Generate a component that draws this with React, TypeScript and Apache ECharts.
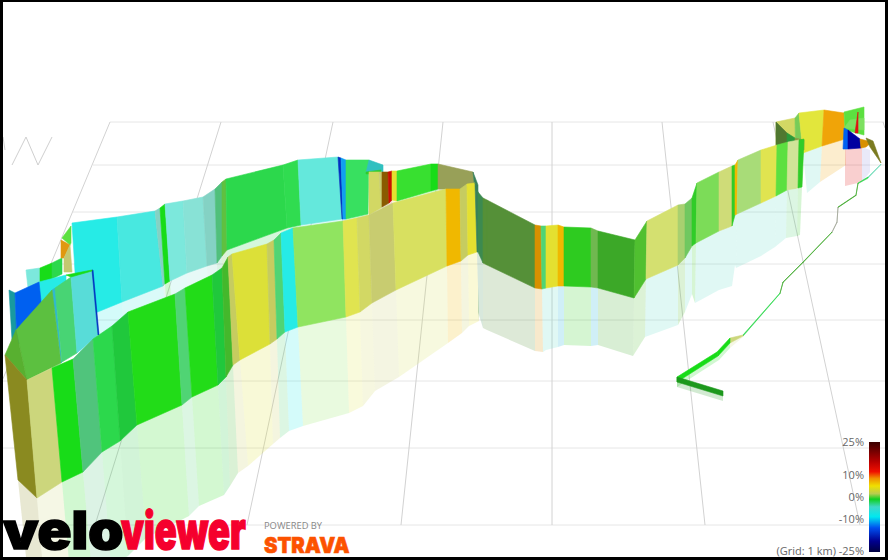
import React, { useEffect, useRef } from "react";
import * as echarts from "echarts";

// Projected route stations: [top x, top y, base x, base y] on the projection axes.
const frontWall = [
  [5,355,18,480],[27,380,37,498],[52,368,62,482],[73,359,83,472],[93,339,102,452],[112,326,120,441],[128,312,137,425],
  [175,294,182,405],[185,288,192,397],[212,275,218,385],[222,268,226,377],[228,257,233,365],[232,254,240,360],[267,244,270,344],
  [274,240,277,339],[281,233,285,332],[293,228,298,327],[343,221,346,317],[357,218,360,312],[369,215,372,303],[393,203,396,290],
  [446,189,447,266],[460,189,461,261],[467,184,468,255],[475,183,477,252],[478,192,478,252],[483,198,483,263],[487,200,487,265],
  [535,225,535,288],[541,226,542,289],[546,226,546,288],[558,225,558,286],[564,227,564,286],[591,228,591,287],[598,231,598,288],
  [635,240,634,298],[647,221,646,279],[678,205,678,265],[685,204,685,258],[692,198,692,246],[697,183,696,243],[719,172,719,231],
  [732,166,732,226],[735,165,735,215],[738,160,737,214],[761,150,761,203],[777,145,776,196],[788,142,787,190],[799,140,798,188],[804,139,802,187],
];
const frontTones = [
  "olive","khakiPale","vivid","greenGrey","green","greenDark","bright","stripe","bright","greenDark","oliveGreen","khaki","yellow","khaki",
  "stripe","cyan","lime","yellowSoft","khakiYellow","khakiDull","yellowPale","amber","khaki","yellowHot","tealDark","tealMid","moss",
  "moss","orange","stripe","yellowHot","amber","greenMid","greyGreen","forest","greenSide","khakiLime","limeGrey","greenSide2","greenMid2","limeSoft","khakiLime2","greenMid2",
  "amber","limeKhaki","yellowSoft","limeBright","palePea","greenMid2",
];
// The floor shows other tones than the wall on the climb past the dark section.
const frontMirrorSwaps: Record<number,string> = {
  29:"mirrorCyan",30:"mirrorCyan",31:"mirrorSky",33:"mirrorSky",36:"mirrorCyan",37:"greenSide",38:"mirrorCyan",40:"mirrorCyan",41:"mirrorCyan",42:"mirrorCyan",
  43:"mirrorCyan",44:"mirrorCyan",45:"mirrorCyan",46:"mirrorCyan",47:"stripe",
};
const backWall = [
  [72,223,78,320],[117,217,122,302],[155,211,163,286],[160,208,165,284],[165,204,170,281],[183,201,187,273],[203,197,207,266],[215,189,217,263],
  [222,182,222,256],[226,179,227,250],[283,165,287,228],[298,160,301,225],[338,157,342,219],[341,158,343,219],[346,160,346,219],[369,160,368,214],
];
const backTones = ["cyan","cyanSoft","tealGrey","vivid","paleCyan","paleCyan2","tealGrey","greyGreenB","oliveGreen2","green","green2","paleCyan3","blueDeep","blueSky","green3"];
const innerWall = [
  [369,172,369,215],[379,172,381,208],[382,172,382,207],[388,172,389,203],[392,171,392,200],[397,171,397,201],[431,164,431,191],[438,164,438,189],[473,172,475,190],[478,185,478,192],
];
const innerTones = ["khakiYellow","khakiDull","brown","red","yellowHot","lime2","vivid","oliveDull","tealDark"];
const farWall = [
  [776,122,776,190],[795,118,796,188],[799,113,803,153],[824,110,822,146],[844,113,845,139],
];
const farTones = ["khakiYellow","stripe2","yellowHot2","amberDeep"];
const farMirrorWall = [[799,113,803,153],[824,110,822,146],[844,113,845,139]];
const farMirrorTones = ["mirrorCyan","amberDeep"];
const cornerWall = [[844,112,845,130],[864,107,864,135]];
const cornerTones = ["limeBright"];
const cornerMirrorWall = [[845,112,845,149],[862,112,862,147],[870,128,870,150]];
const cornerMirrorTones = ["red2","mirrorLilac"];
const leftBackWall = [[9,290,12,340],[15,293,17,345],[39,282,43,320]];
const leftBackTones = ["tealDeep","blueBright"];
const leftRearWall = [[26,270,28,288],[40,268,40,284],[52,263,52,279],[62,258,62,274]];
const leftRearTones = ["paleCyan","vivid","green"];
const leftFrontWall = [[52,290,61,363],[55,288,62,362],[71,277,77,353],[92,270,98,335],[93,270,99,335]];
const leftFrontTones = ["skyGrey","greenGrey2","tealBright","blueDeep"];
const routeWall = [
  [881,164,881,164.6],[868,177,868,178],[858,183,858,183.5],[856,195,856,195.4],[838,207,838,207.5],[837,222,837,222.3],[832,232,832,232.3],
  [803,262,803,262.5],[783,282,783,282.5],[780,293,780,293.5],[743,335,743,336],[730,338,730,343],[717,352,718,356],[677,377,677,382],[723,391,723,396],
];
const routeTones = ["tealPale","green","forest","forest","greyThin","greyThin","forest","forest","forest","green","khakiPale","vivid","vivid","routeDark"];

// Free quads for the folded bits of the route: eight projected values each.
const folds = [
  [369,160,383,165,383,173,366,173],[366,172,381,170,381,173,366,174],
  [39,282,66,275,66,300,39,320],[62,238,71,226,71,243,70,245],[61,240,70,245,64,258,61,258],[64,258,70,245,72,272,64,272],
  [66,275,92,270,92,271,71,277],
  [16,330,52,290,61,363,27,380],[5,355,16,330,27,380,27,380],
  [776,122,787,133,787,150,776,150],[787,133,795,138,795,150,787,150],[795,138,804,140,804,150,795,150],
  [844,128,850,120,864,118,864,130],[855,133,858,112,858,112,858,133],
  [844,128,848,130,848,149,843,149],[848,130,860,139,861,148,848,149],[860,139,872,142,866,147,861,148],[866,138,873,141,881,163,870,147],
];
const foldTones = ["tealMid2","greenMid2","cyan","limeBright","orange2","khakiDull2","vivid","leafGreen","leafDark","mossDark","greenFold","oliveFold","limePale","red2","blueBright","navy","orange","oliveDark"];

const horizontalGrid = [[110,122,884],[93,165,885],[73,212,885],[51,264,885],[27,320,885],[3,381,885],[3,448,885],[3,525,885]];
const depthGrid = [[110,122,-58,525],[221,122,95,525],[333,122,247,525],[443,122,401,525],[552,122,552,525],[662,122,705,525],[773,122,860,525],[883,122,885,128]];
const compassMark: any[] = [[3,137],[5,150],"-",[12,165],[26,137],[38,165],[52,137]];

const legendTicks = ["25%", "10%", "0%", "-10%", "(Grid: 1 km) -25%"];
const legendStops: [number, string][] = [
  [0,"#3a0000"],[0.18,"#b80000"],[0.27,"#f01000"],[0.33,"#f09000"],[0.4,"#f0e000"],[0.47,"#b8cc50"],[0.52,"#10d020"],[0.59,"#40d8c8"],
  [0.68,"#00e8f0"],[0.78,"#0050f0"],[0.9,"#000090"],[1,"#000040"],
];

// Styles
const TONE: Record<string,string> = {
  olive:"#8a8a20",khakiPale:"#ccd67c",vivid:"#18dc18",greenGrey:"#50c47c",green:"#2cd84c",greenDark:"#20c83c",bright:"#22dc18",stripe:"#50d474",
  oliveGreen:"#44b82c",khaki:"#c6cc60",yellow:"#dce038",cyan:"#26ebe6",lime:"#90e460",yellowSoft:"#e0e450",khakiYellow:"#d2d864",khakiDull:"#c8cc70",
  yellowPale:"#d8e060",amber:"#f0b800",yellowHot:"#e4e030",tealDark:"#37805a",tealMid:"#3c8a50",moss:"#559038",orange:"#d89000",greenMid:"#2ecb20",
  greyGreen:"#70b850",forest:"#3ca828",greenSide:"#50c030",khakiLime:"#d4e070",limeGrey:"#a8d070",greenSide2:"#70c860",greenMid2:"#30cc28",limeSoft:"#7cdc58",
  khakiLime2:"#cfdc78",limeKhaki:"#a8dc78",limeBright:"#5ce040",palePea:"#d0e498",cyanSoft:"#48e8e0",tealGrey:"#84d2c4",paleCyan:"#7ce8dc",paleCyan2:"#88e2d6",
  greyGreenB:"#50c07c",oliveGreen2:"#60c040",green2:"#30dc50",paleCyan3:"#64e8dc",blueDeep:"#0030c0",blueSky:"#10a0f0",green3:"#38e060",brown:"#8a5a00",red:"#c81000",
  lime2:"#38e030",oliveDull:"#98a058",stripe2:"#78cc58",yellowHot2:"#e2e63c",amberDeep:"#f0a408",tealDeep:"#189aa0",blueBright:"#0060f0",skyGrey:"#30b8d0",
  greenGrey2:"#48d474",tealBright:"#58dcd8",tealPale:"#70dcb8",greyThin:"#9aa090",routeDark:"#1c981c",tealMid2:"#30c0c0",orange2:"#e09810",khakiDull2:"#c4c870",
  leafGreen:"#5cc040",leafDark:"#58b030",mossDark:"#507830",greenFold:"#2a9a3a",oliveFold:"#8a9a40",limePale:"#7ce060",red2:"#e01010",navy:"#0000a0",oliveDark:"#7a7a20",
  mirrorCyan:"#64dcc8",mirrorSky:"#14b0d8",mirrorLilac:"#9090e0",
};
const toPanels = (wall: number[][], tones: string[]) =>
  tones.map((tone, i) => {
    const a = wall[i], b = wall[i + 1];
    return { tone, value: [a[0], a[1], b[0], b[1], b[2], b[3], a[2], a[3]] };
  });
const toFolds = (from: number, to: number) =>
  folds.slice(from, to).map((value, i) => ({ tone: foldTones[from + i], value }));

export default function App() {
  const ref = useRef<HTMLDivElement>(null);
  useEffect(() => {
    document.body.style.margin = "0";
    const chart = echarts.init(ref.current!, undefined, { renderer: "svg" });
    const walls = [
      ...toPanels(routeWall, routeTones),
      ...toPanels(farWall, farTones),
      ...toFolds(9, 12),
      ...toPanels(cornerWall, cornerTones),
      ...toFolds(12, 18),
      ...toPanels(leftRearWall, leftRearTones),
      ...toFolds(2, 6),
      ...toPanels(backWall, backTones),
      ...toFolds(0, 2),
      ...toPanels(innerWall, innerTones),
      ...toPanels(leftBackWall, leftBackTones),
      ...toPanels(leftFrontWall, leftFrontTones),
      ...toFolds(6, 9),
      ...toPanels(frontWall, frontTones),
    ];
    const mirrored = [
      ...toPanels(backWall, backTones), ...toPanels(innerWall, innerTones), ...toPanels(farMirrorWall, farMirrorTones),
      ...toPanels(cornerMirrorWall, cornerMirrorTones),
      ...toPanels(frontWall, frontTones.map((t, i) => frontMirrorSwaps[i] || t)), ...toPanels(routeWall, routeTones),
    ];
    const poly = (api: any, pts: number[][], fill: string, opacity: number) => ({
      type: "polygon",
      shape: { points: pts.map((p) => api.coord(p)) },
      style: { fill, stroke: fill, lineWidth: opacity < 1 ? 0 : 0.6, opacity },
    });
    const dims = { x: [0, 2, 4, 6], y: [1, 3, 5, 7] };
    chart.setOption({
      animation: false,
      backgroundColor: "#fff",
      grid: { left: 0, right: 0, top: 0, bottom: 0 },
      xAxis: { type: "value", min: 0, max: 888, show: false },
      yAxis: { type: "value", min: 0, max: 560, inverse: true, show: false },
      series: [
        {
          type: "line", silent: true, symbol: "none", lineStyle: { color: "#cfcfcf", width: 1 },
          data: compassMark, z: 1,
        },
        {
          type: "custom", silent: true, z: 1, clip: true, encode: { x: [0, 2], y: [1, 3] },
          data: [...horizontalGrid.map(([x0, y, x1]) => [x0, y, x1, y]), ...depthGrid],
          renderItem: (params: any, api: any) => ({
            type: "line",
            shape: (() => {
              const a = api.coord([api.value(0), api.value(1)]), b = api.coord([api.value(2), api.value(3)]);
              return { x1: a[0], y1: a[1], x2: b[0], y2: b[1] };
            })(),
            style: { stroke: params.dataIndex < horizontalGrid.length ? "#e6e6e6" : "#d2d2d2", lineWidth: 1 },
          }),
        },
        {
          type: "custom", silent: true, z: 2, encode: dims,
          data: mirrored.map((p) => p.value),
          renderItem: (params: any, api: any) => {
            const v = [0, 1, 2, 3, 4, 5, 6, 7].map((i) => api.value(i));
            return poly(api, [
              [v[6], v[7]], [v[4], v[5]],
              [2 * v[4] - v[2], 2 * v[5] - v[3]], [2 * v[6] - v[0], 2 * v[7] - v[1]],
            ], TONE[mirrored[params.dataIndex].tone], 0.2);
          },
        },
        {
          type: "custom", silent: true, z: 3, encode: dims,
          data: walls.map((p) => p.value),
          renderItem: (params: any, api: any) => {
            const v = [0, 1, 2, 3, 4, 5, 6, 7].map((i) => api.value(i));
            return poly(api, [[v[0], v[1]], [v[2], v[3]], [v[4], v[5]], [v[6], v[7]]], TONE[walls[params.dataIndex].tone], 1);
          },
        },
      ],
      graphic: [
        ...legendTicks.map((text, i) => ({
          type: "text", z: 50, x: 864, y: [441, 474, 496, 518, 550][i],
          style: { text, fill: "#666", font: '11px "Open Sans"', textAlign: "right", textVerticalAlign: "middle" },
        })),
        {
          type: "rect", z: 50, shape: { x: 869, y: 442, width: 11, height: 110 },
          style: {
            fill: new echarts.graphic.LinearGradient(0, 0, 0, 1, legendStops.map(([offset, color]) => ({ offset, color }))),
          },
        },
        {
          type: "text", z: 50, x: 3, y: 556, scaleX: 1.08,
          style: { text: "velo", fill: "#000", stroke: "#000", lineWidth: 1.5, font: '900 52px Inter', textVerticalAlign: "bottom" },
        },
        {
          type: "text", z: 50, x: 121, y: 556, scaleX: 0.7,
          style: { text: "viewer", fill: "#f5002d", stroke: "#f5002d", lineWidth: 1.5, font: '900 52px Inter', textVerticalAlign: "bottom" },
        },
        {
          type: "text", z: 50, x: 264, y: 526, scaleX: 1.1,
          style: { text: "POWERED BY", fill: "#888", font: '8.5px "Open Sans"', textVerticalAlign: "middle" },
        },
        {
          type: "text", z: 50, x: 264, y: 545, scaleX: 0.92,
          style: { text: "STRAVA", fill: "#fc5200", stroke: "#fc5200", lineWidth: 0.6, font: '900 22px Inter', textVerticalAlign: "middle" },
        },
        { type: "rect", z: 60, shape: { x: 0, y: 0, width: 888, height: 2 }, style: { fill: "#000" } },
        { type: "rect", z: 60, shape: { x: 0, y: 557, width: 888, height: 3 }, style: { fill: "#000" } },
        { type: "rect", z: 60, shape: { x: 0, y: 0, width: 3, height: 560 }, style: { fill: "#000" } },
        { type: "rect", z: 60, shape: { x: 885, y: 0, width: 3, height: 560 }, style: { fill: "#000" } },
      ],
    });
    return () => chart.dispose();
  }, []);
  return <div ref={ref} style={{ width: 888, height: 560 }} />;
}
